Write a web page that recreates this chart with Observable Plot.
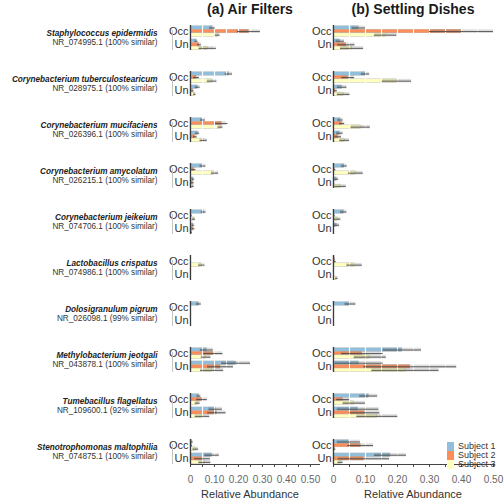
<!DOCTYPE html>
<html><head><meta charset="utf-8">
<script src="https://cdn.jsdelivr.net/npm/d3@7"></script>
<script src="https://cdn.jsdelivr.net/npm/@observablehq/plot@0.6"></script>
<style>
body{margin:0;background:#fff;}
#wrap{position:relative;width:504px;height:504px;overflow:hidden;font-family:"Liberation Sans",Arial,sans-serif;color:#222;}
#wrap svg{position:absolute;top:0;}
.t{position:absolute;white-space:nowrap;transform:translateX(-50%);}
.title{font-weight:bold;font-size:14px;top:1px;color:#1a1a1a;}
.xl{font-size:11px;top:488px;color:#333;}
.leg{position:absolute;left:447px;top:442px;font-size:9px;line-height:9px;color:#333;}
.leg div{display:flex;align-items:center;height:9px;}
.leg span.sw{display:inline-block;width:7px;height:9px;margin-right:4px;}
</style></head><body><div id="wrap"></div>
<script>
const species = ["Staphylococcus epidermidis","Corynebacterium tuberculostearicum","Corynebacterium mucifaciens","Corynebacterium amycolatum","Corynebacterium jeikeium","Lactobacillus crispatus","Dolosigranulum pigrum","Methylobacterium jeotgali","Tumebacillus flagellatus","Stenotrophomonas maltophilia"];
const accession = ["NR_074995.1 (100% similar)","NR_028975.1 (100% similar)","NR_026396.1 (100% similar)","NR_026215.1 (100% similar)","NR_074706.1 (100% similar)","NR_074986.1 (100% similar)","NR_026098.1 (99% similar)","NR_043878.1 (100% similar)","NR_109600.1 (92% similar)","NR_074875.1 (100% similar)"];
const subjects = ["Subject 1","Subject 2","Subject 3"];
const conditions = ["Occ","Un"];
const panelTitles = ["(a) Air Filters","(b) Settling Dishes"];
const xTitle = "Relative Abundance";
const xTickValues = [0,0.05,0.10,0.15,0.20,0.25,0.30,0.35,0.40,0.45,0.50];
const xTickLabels = ["0","","0.10","","0.20","","0.30","","0.40","","0.50"];

// mean relative abundance per species: [Subject 1, Subject 2, Subject 3]
const airOccMean = [[0.092,0.243,0.113],[0.16,0.025,0.09],[0.052,0.13,0.125],[0.052,0.014,0.102],[0.055,0.004,0.014],[0.002,0.002,0.047],[0.035,0,0],[0.068,0.095,0.065],[0.035,0.048,0.03],[0.007,0.005,0.022]];
const airOccErr  = [[0.012,0.048,0.01],[0.015,0.012,0.02],[0.01,0.026,0.01],[0.012,0.008,0.015],[0.01,0.003,0.007],[0.001,0.001,0.013],[0.01,0,0],[0.027,0.04,0.02],[0.008,0.022,0.01],[0.004,0.003,0.012]];
const airUnMean  = [[0.025,0.037,0.072],[0.03,0.01,0.018],[0.03,0.02,0.055],[0.012,0.01,0.01],[0.012,0.012,0.005],[0.001,0.001,0.002],[0.001,0,0],[0.19,0.125,0.09],[0.105,0.11,0.05],[0.09,0.05,0.06]];
const airUnErr   = [[0.006,0.008,0.036],[0.01,0.004,0.005],[0.008,0.008,0.015],[0.005,0.005,0.005],[0.005,0.006,0.003],[0.001,0.001,0.001],[0.001,0,0],[0.06,0.054,0.048],[0.028,0.038,0.03],[0.03,0.033,0.025]];
const setOccMean = [[0.079,0.40,0.163],[0.10,0.046,0.198],[0.022,0.027,0.085],[0.034,0.004,0.07],[0.032,0.003,0.013],[0.003,0.005,0.066],[0.053,0,0],[0.215,0.09,0.115],[0.11,0.03,0.065],[0.048,0.085,0.004]];
const setOccErr  = [[0.021,0.10,0.035],[0.013,0.02,0.046],[0.008,0.008,0.03],[0.009,0.003,0.023],[0.01,0.002,0.01],[0.002,0.003,0.024],[0.017,0,0],[0.06,0.065,0.05],[0.028,0.02,0.035],[0.036,0.04,0.003]];
const setUnMean  = [[0.021,0.04,0.058],[0.027,0.006,0.032],[0.02,0.015,0.035],[0.01,0.002,0.022],[0.011,0.001,0.001],[0.002,0,0.01],[0.001,0,0],[0.08,0.24,0.225],[0.077,0.098,0.137],[0.178,0.095,0.022]];
const setUnErr   = [[0.013,0.027,0.036],[0.015,0.006,0.02],[0.01,0.01,0.015],[0.006,0.002,0.018],[0.008,0.001,0.001],[0.001,0,0.004],[0.001,0,0],[0.075,0.145,0.105],[0.065,0.047,0.064],[0.05,0.08,0.008]];

const colors = ["#91bfdb","#fc8d59","#ffffbf"];
const FONT = '"Liberation Sans", Arial, sans-serif';
// slot layout inside each species band (Occ bars, small gap, Un bars)
const condOffset = {Occ: 0, Un: 3.7};
const yDomain = [-0.2, 6.8];

function buildRows(occM, occE, unM, unE) {
  const rows = [];
  species.forEach((sp, i) => {
    [["Occ", occM, occE], ["Un", unM, unE]].forEach(([cond, M, E]) => {
      subjects.forEach((sub, j) => {
        const v = M[i][j], e = E[i][j];
        const ya = condOffset[cond] + j;
        rows.push({sp, cond, subject: sub, v, lo: Math.max(0, v - e), hi: v + e, ya, yb: ya + 1, ym: ya + 0.5});
      });
    });
  });
  return rows;
}
const condLabels = species.flatMap(sp => conditions.map(cond => ({sp, cond, y: condOffset[cond] + 1.5})));
const speciesRows = species.map((sp, i) => ({sp, acc: accession[i]}));

function panel(rows, o) {
  const marks = [
    Plot.rect(rows, {x1: 0, x2: "v", y1: "ya", y2: "yb", fy: "sp", fill: "subject", stroke: "#a8a8a8", strokeWidth: 0.35}),
    Plot.rect(rows, {x1: "lo", x2: "hi", y1: "ya", y2: "yb", fy: "sp", fill: "#6e6e6e", fillOpacity: 0.22}),
    Plot.ruleX(xTickValues.slice(1), {stroke: "#fff", strokeWidth: 1.1}),
    Plot.ruleY(rows, {y: "ym", x1: "lo", x2: "hi", fy: "sp", stroke: "#4a4a4a", strokeWidth: 0.9}),
    Plot.ruleX([0], {stroke: "#3a3a3a", strokeWidth: 1.3}),
    Plot.text(condLabels, {x: 0, y: "y", fy: "sp", text: "cond", textAnchor: "end", dx: -2, fontSize: 11, fill: "#333"}),
    Plot.ruleY([{sp: species[species.length - 1], y: yDomain[1]}], {y: "y", fy: "sp", stroke: "#444", strokeWidth: 1}),
    Plot.axisX({ticks: xTickValues, tickFormat: (d, i) => xTickLabels[i], tickSize: 3, tickPadding: 8, fontSize: 10, fill: "#666", stroke: "#444", label: null})
  ];
  if (o.labels) {
    marks.push(
      Plot.ruleX([0], {dx: -18, insetTop: 5, stroke: "#c4c4c4", strokeWidth: 1}),
      Plot.text(speciesRows, {fy: "sp", frameAnchor: "left", text: "sp", textAnchor: "end", dx: -33, dy: -4.4, fontSize: 8.2, fontWeight: "bold", fontStyle: "italic", fill: "#222"}),
      Plot.text(speciesRows, {fy: "sp", frameAnchor: "left", text: "acc", textAnchor: "end", dx: -33, dy: 4.6, fontSize: 8.2, fill: "#333"})
    );
  }
  const svg = Plot.plot({
    width: o.width, height: 504,
    marginLeft: o.ml, marginRight: o.mr, marginTop: 23, marginBottom: 39,
    x: {domain: o.xdom, axis: null},
    y: {domain: yDomain, reverse: true, axis: null},
    fy: {domain: species, paddingInner: 0.46, paddingOuter: 0, axis: null, label: null},
    color: {domain: subjects, range: colors},
    style: {fontFamily: FONT, background: "transparent", overflow: "visible"},
    marks
  });
  svg.style.left = o.left + "px";
  return svg;
}

const wrap = document.getElementById("wrap");
wrap.appendChild(panel(buildRows(airOccMean, airOccErr, airUnMean, airUnErr), {left: 0, width: 330, ml: 190, mr: 10, xdom: [0, 0.5417], labels: true}));
wrap.appendChild(panel(buildRows(setOccMean, setOccErr, setUnMean, setUnErr), {left: 290, width: 214, ml: 43, mr: 9, xdom: [0, 0.5063], labels: false}));

const centers = [250, 413];
panelTitles.forEach((t, i) => {
  const d = document.createElement("div"); d.className = "t title"; d.style.left = centers[i] + "px"; d.textContent = t; wrap.appendChild(d);
  const x = document.createElement("div"); x.className = "t xl"; x.style.left = centers[i] + "px"; x.textContent = xTitle; wrap.appendChild(x);
});
const leg = document.createElement("div"); leg.className = "leg";
subjects.forEach((s, i) => {
  const r = document.createElement("div");
  const sw = document.createElement("span"); sw.className = "sw"; sw.style.background = colors[i];
  r.appendChild(sw); r.appendChild(document.createTextNode(s)); leg.appendChild(r);
});
wrap.appendChild(leg);
</script></body></html>
